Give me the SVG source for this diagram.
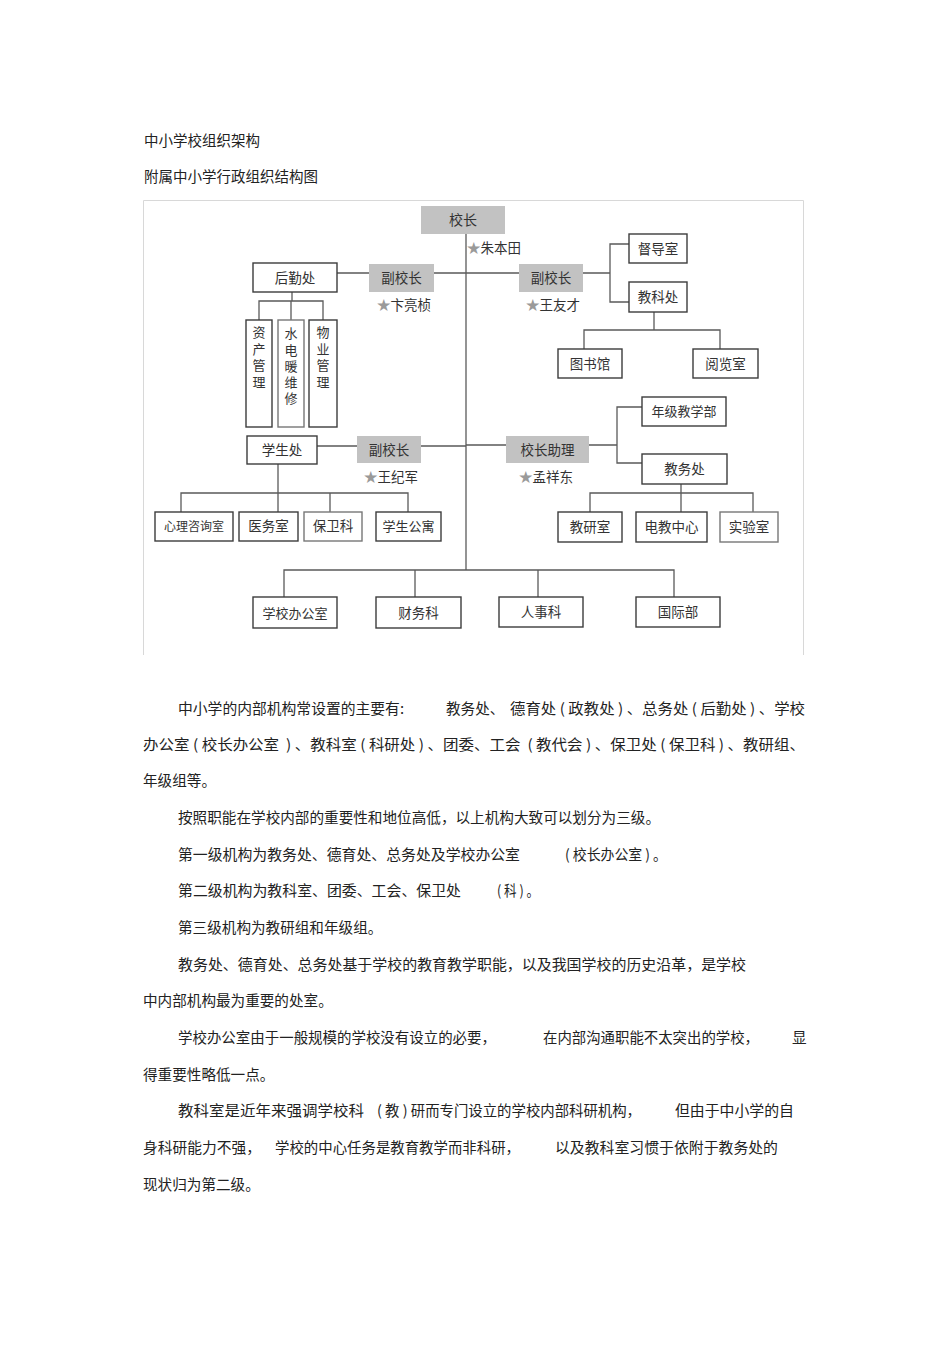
<svg xmlns="http://www.w3.org/2000/svg" width="950" height="1345" viewBox="0 0 950 1345">
<style>
text{font-family:"Noto Sans CJK SC","Noto Sans",sans-serif}
.box{fill:#fff;stroke:#3c3c3c;stroke-width:1.4}
.gbox{fill:#c2c2c2;stroke:none}
.lbl{font-size:13.5px;fill:#333;text-anchor:middle}
.sm{font-size:12px}
.vt{font-size:13px;fill:#333;writing-mode:vertical-rl;letter-spacing:3.2px}
.nm{font-size:13.5px;fill:#333}
.star{fill:#9a9a9a}
.conn{stroke:#5a5a5a;stroke-width:1.3;fill:none}
.frame{stroke:#d8d8d8;stroke-width:1;fill:none}
.ttl{font-size:14.5px;fill:#222}
.p{font-size:14.6px;fill:#222}
</style>
<rect width="950" height="1345" fill="#fff"/>
<text class="ttl" x="144" y="145.5">中小学校组织架构</text>
<text class="ttl" x="144" y="181.5">附属中小学行政组织结构图</text>
<path class="frame" d="M143.5,655 V200.5 H803.5 V655"/>
<g id="connectors">
<path class="conn" d="M466,234 V570"/>
<path class="conn" d="M337,273 H369 M434,273 H519 M583,273 H610"/>
<path class="conn" d="M629,244 H610 V302 H629"/>
<path class="conn" d="M292,292 V301 M259,320 V301 H323 V320 M291,301 V320"/>
<path class="conn" d="M654,312 V330 M584,349 V330 H720 V349"/>
<path class="conn" d="M317,446 H357 M421,446 H466"/>
<path class="conn" d="M466,445 H506 M589,445 H617"/>
<path class="conn" d="M642,407 H617 V463 H642"/>
<path class="conn" d="M278,464 V512 M181,512 V493 H408 V512 M330,493 V512"/>
<path class="conn" d="M681,484 V512 M590,512 V493 H753 V512"/>
<path class="conn" d="M284,597 V570 H674 V597 M415,570 V597 M538,570 V597"/>
</g>
<g id="n-xiaozhang"><rect class="gbox" x="421" y="206" width="84" height="28"/><text class="lbl" x="463" y="225" style="font-size:14px">校长</text></g>
<g id="n-zhu"><text class="nm" x="467" y="253"><tspan class="star">★</tspan>朱本田</text></g>
<g id="n-houqin"><rect class="box" x="253" y="263" width="84" height="29"/><text class="lbl" x="295" y="282.5">后勤处</text></g>
<g id="n-fu1"><rect class="gbox" x="369" y="264" width="65" height="28"/><text class="lbl" x="401.5" y="283">副校长</text></g>
<g id="n-bian"><text class="nm" x="377" y="310"><tspan class="star">★</tspan>卞亮桢</text></g>
<g id="n-zichan"><rect class="box" x="246" y="320" width="26" height="107"/><text class="vt" x="259" y="326" style="letter-spacing:3.5px">资产管理</text></g>
<g id="n-shuidian"><rect class="box" x="278" y="320" width="26" height="107" style="stroke:#777"/><text class="vt" x="291" y="327">水电暖维修</text></g>
<g id="n-wuye"><rect class="box" x="309" y="320" width="28" height="107"/><text class="vt" x="323" y="326" style="letter-spacing:3.5px">物业管理</text></g>
<g id="n-fu2"><rect class="gbox" x="519" y="264" width="64" height="28"/><text class="lbl" x="551" y="283">副校长</text></g>
<g id="n-wang1"><text class="nm" x="526" y="310"><tspan class="star">★</tspan>王友才</text></g>
<g id="n-dudao"><rect class="box" x="629" y="234" width="58" height="29"/><text class="lbl" x="658" y="253.5">督导室</text></g>
<g id="n-jiaoke"><rect class="box" x="629" y="282" width="58" height="30"/><text class="lbl" x="658" y="302">教科处</text></g>
<g id="n-tushu"><rect class="box" x="558" y="349" width="64" height="29"/><text class="lbl" x="590" y="368.5">图书馆</text></g>
<g id="n-yuelan"><rect class="box" x="693" y="349" width="65" height="29"/><text class="lbl" x="725.5" y="368.5">阅览室</text></g>
<g id="n-nianji"><rect class="box" x="642" y="397" width="84" height="29"/><text class="lbl" x="684" y="416" style="font-size:13px">年级教学部</text></g>
<g id="n-zhuli"><rect class="gbox" x="506" y="436" width="83" height="27"/><text class="lbl" x="547.5" y="454.5">校长助理</text></g>
<g id="n-meng"><text class="nm" x="519" y="482"><tspan class="star">★</tspan>孟祥东</text></g>
<g id="n-jiaowu"><rect class="box" x="642" y="454" width="85" height="30"/><text class="lbl" x="684.5" y="474">教务处</text></g>
<g id="n-jiaoyan"><rect class="box" x="558" y="512" width="64" height="30"/><text class="lbl" x="590" y="532">教研室</text></g>
<g id="n-dianjiao"><rect class="box" x="636" y="512" width="71" height="30"/><text class="lbl" x="671.5" y="532">电教中心</text></g>
<g id="n-shiyan"><rect class="box" x="720" y="512" width="58" height="30" style="stroke:#777"/><text class="lbl" x="749" y="532">实验室</text></g>
<g id="n-xuesheng"><rect class="box" x="247" y="436" width="70" height="28"/><text class="lbl" x="282" y="455">学生处</text></g>
<g id="n-fu3"><rect class="gbox" x="357" y="436" width="64" height="27"/><text class="lbl" x="389" y="454.5">副校长</text></g>
<g id="n-wang2"><text class="nm" x="364" y="482"><tspan class="star">★</tspan>王纪军</text></g>
<g id="n-xinli"><rect class="box" x="155" y="512" width="78" height="29"/><text class="lbl sm" x="194" y="531">心理咨询室</text></g>
<g id="n-yiwu"><rect class="box" x="239" y="512" width="59" height="29"/><text class="lbl" x="268.5" y="531">医务室</text></g>
<g id="n-baowei"><rect class="box" x="304" y="512" width="58" height="29" style="stroke:#777"/><text class="lbl" x="333" y="531">保卫科</text></g>
<g id="n-gongyu"><rect class="box" x="376" y="512" width="65" height="29"/><text class="lbl" x="408.5" y="531" style="font-size:13px">学生公寓</text></g>
<g id="n-bangong"><rect class="box" x="253" y="597" width="84" height="31"/><text class="lbl" x="295" y="617.5" style="font-size:13px">学校办公室</text></g>
<g id="n-caiwu"><rect class="box" x="376" y="597" width="85" height="31"/><text class="lbl" x="418.5" y="617.5">财务科</text></g>
<g id="n-renshi"><rect class="box" x="499" y="597" width="84" height="30"/><text class="lbl" x="541" y="617">人事科</text></g>
<g id="n-guoji"><rect class="box" x="636" y="597" width="84" height="30"/><text class="lbl" x="678" y="617">国际部</text></g>
<g id="paragraphs">
<text class="p" x="178" y="713.5" textLength="226" lengthAdjust="spacingAndGlyphs">中小学的内部机构常设置的主要有:</text>
<text class="p" x="446" y="713.5">教务处、</text>
<text class="p" x="510" y="713.5" textLength="295" lengthAdjust="spacingAndGlyphs">德育处 ( 政教处 ) 、总务处 ( 后勤处 ) 、学校</text>
<text class="p" x="143" y="749.5" textLength="662" lengthAdjust="spacingAndGlyphs">办公室 ( 校长办公室 &#160;) 、教科室 ( 科研处 ) 、团委、工会 &#160;( 教代会 ) 、保卫处 ( 保卫科 ) 、教研组、</text>
<text class="p" x="143" y="785.5">年级组等。</text>
<text class="p" x="178" y="822.5" textLength="482" lengthAdjust="spacingAndGlyphs">按照职能在学校内部的重要性和地位高低，以上机构大致可以划分为三级。</text>
<text class="p" x="178" y="859.5" textLength="342" lengthAdjust="spacingAndGlyphs">第一级机构为教务处、德育处、总务处及学校办公室</text>
<text class="p" x="565" y="859.5" textLength="102" lengthAdjust="spacingAndGlyphs">( 校长办公室 ) 。</text>
<text class="p" x="178" y="895.5" textLength="283" lengthAdjust="spacingAndGlyphs">第二级机构为教科室、团委、工会、保卫处</text>
<text class="p" x="497" y="895.5" textLength="42" lengthAdjust="spacingAndGlyphs">( 科 ) 。</text>
<text class="p" x="178" y="932.5">第三级机构为教研组和年级组。</text>
<text class="p" x="178" y="969.5" textLength="568" lengthAdjust="spacingAndGlyphs">教务处、德育处、总务处基于学校的教育教学职能，以及我国学校的历史沿革，是学校</text>
<text class="p" x="143" y="1005.5">中内部机构最为重要的处室。</text>
<text class="p" x="178" y="1042.5" textLength="318" lengthAdjust="spacingAndGlyphs">学校办公室由于一般规模的学校没有设立的必要，</text>
<text class="p" x="543" y="1042.5" textLength="216" lengthAdjust="spacingAndGlyphs">在内部沟通职能不太突出的学校，</text>
<text class="p" x="792" y="1042.5">显</text>
<text class="p" x="143" y="1079.5">得重要性略低一点。</text>
<text class="p" x="178" y="1115.5" textLength="186" lengthAdjust="spacingAndGlyphs">教科室是近年来强调学校科</text>
<text class="p" x="377" y="1115.5" textLength="264" lengthAdjust="spacingAndGlyphs">( 教 ) 研而专门设立的学校内部科研机构，</text>
<text class="p" x="675" y="1115.5" textLength="119" lengthAdjust="spacingAndGlyphs">但由于中小学的自</text>
<text class="p" x="143" y="1152.5" textLength="118" lengthAdjust="spacingAndGlyphs">身科研能力不强，</text>
<text class="p" x="275" y="1152.5" textLength="245" lengthAdjust="spacingAndGlyphs">学校的中心任务是教育教学而非科研，</text>
<text class="p" x="555" y="1152.5" textLength="223" lengthAdjust="spacingAndGlyphs">以及教科室习惯于依附于教务处的</text>
<text class="p" x="143" y="1189.5">现状归为第二级。</text>
</g>
</svg>
